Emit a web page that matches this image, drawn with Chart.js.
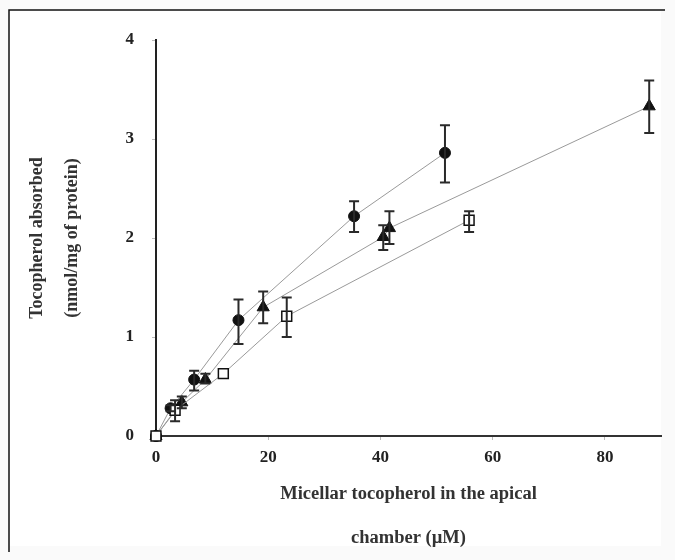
<!DOCTYPE html>
<html lang="en">
<head>
    <meta charset="UTF-8">
    <title>Tocopherol absorption</title>
    <style>
        body {
            margin: 0;
            background: #fafafa;
        }
        canvas {
            display: block;
        }
    </style>
    <script src="https://cdn.jsdelivr.net/npm/chart.js"></script>
</head>
<body>
    <canvas id="tocoChart" width="675" height="560"></canvas>

    <script>
        // values (x: µM, y: nmol/mg protein)
        const xTicks = [0, 20, 40, 60, 80];
        const yTicks = [0, 1, 2, 3, 4];

        const circleX = [0, 2.6, 6.8, 14.7, 35.3, 51.5];
        const circleY = [0, 0.28, 0.57, 1.17, 2.22, 2.86];
        const circleLo = [0, 0.25, 0.46, 0.93, 2.06, 2.56];
        const circleHi = [0, 0.31, 0.66, 1.38, 2.37, 3.14];

        const triangleX = [0, 4.6, 8.8, 19.1, 40.5, 41.6, 87.9];
        const triangleY = [0, 0.34, 0.57, 1.30, 2.01, 2.10, 3.33];
        const triangleLo = [0, 0.28, 0.53, 1.14, 1.88, 1.94, 3.06];
        const triangleHi = [0, 0.40, 0.63, 1.46, 2.13, 2.27, 3.59];

        const squareX = [0, 3.4, 12.0, 23.3, 55.8];
        const squareY = [0, 0.26, 0.63, 1.21, 2.18];
        const squareLo = [0, 0.15, 0.63, 1.00, 2.06];
        const squareHi = [0, 0.36, 0.63, 1.40, 2.27];

        function points(xs, ys, lo, hi) {
            return xs.map((x, i) => ({ x: x, y: ys[i], lo: lo[i], hi: hi[i] }));
        }

        const serif = 'Liberation Serif, Times New Roman, serif';

        // page frame behind the chart
        const framePlugin = {
            id: 'frame',
            beforeDraw(chart) {
                const ctx = chart.ctx;
                ctx.save();
                ctx.fillStyle = '#ffffff';
                ctx.fillRect(9, 10, 652, 536);
                ctx.strokeStyle = '#111';
                ctx.lineWidth = 1.5;
                ctx.beginPath();
                ctx.moveTo(665, 10);
                ctx.lineTo(9, 10);
                ctx.lineTo(9, 552);
                ctx.stroke();
                ctx.restore();
            }
        };

        // vertical error bars
        const errorBars = {
            id: 'errorBars',
            afterDatasetsDraw(chart) {
                const ctx = chart.ctx;
                const xs = chart.scales.x;
                const ys = chart.scales.y;
                ctx.save();
                ctx.strokeStyle = '#2a2a2a';
                ctx.lineWidth = 2;
                chart.data.datasets.forEach(ds => {
                    ds.data.forEach(p => {
                        if (p.hi - p.lo < 0.02) return;
                        const px = xs.getPixelForValue(p.x);
                        const top = ys.getPixelForValue(p.hi);
                        const bot = ys.getPixelForValue(p.lo);
                        ctx.beginPath();
                        ctx.moveTo(px, top);
                        ctx.lineTo(px, bot);
                        ctx.moveTo(px - 5, top);
                        ctx.lineTo(px + 5, top);
                        ctx.moveTo(px - 5, bot);
                        ctx.lineTo(px + 5, bot);
                        ctx.stroke();
                    });
                });
                ctx.restore();
            }
        };

        const lineStyle = {
            showLine: true,
            borderColor: '#9a9a9a',
            borderWidth: 1,
            clip: false
        };

        new Chart(document.getElementById('tocoChart'), {
            type: 'scatter',
            data: {
                datasets: [
                    Object.assign({
                        label: 'square',
                        data: points(squareX, squareY, squareLo, squareHi),
                        pointStyle: 'rect',
                        pointRadius: 7,
                        pointBackgroundColor: '#ffffff',
                        pointBorderColor: '#111',
                        pointBorderWidth: 1.5
                    }, lineStyle),
                    Object.assign({
                        label: 'circle',
                        data: points(circleX, circleY, circleLo, circleHi),
                        pointStyle: 'circle',
                        pointRadius: 5.5,
                        pointBackgroundColor: '#111',
                        pointBorderColor: '#111',
                        pointBorderWidth: 1
                    }, lineStyle),
                    Object.assign({
                        label: 'triangle',
                        data: points(triangleX, triangleY, triangleLo, triangleHi),
                        pointStyle: 'triangle',
                        pointRadius: 7,
                        pointBackgroundColor: '#111',
                        pointBorderColor: '#111',
                        pointBorderWidth: 1
                    }, lineStyle)
                ]
            },
            options: {
                responsive: false,
                animation: false,
                devicePixelRatio: 1,
                layout: {
                    padding: { top: 40, right: 14, bottom: 0, left: 0 }
                },
                plugins: {
                    legend: { display: false },
                    tooltip: { enabled: false }
                },
                scales: {
                    x: {
                        type: 'linear',
                        min: 0,
                        max: 90,
                        afterBuildTicks: scale => {
                            scale.ticks = xTicks.map(v => ({ value: v }));
                        },
                        afterFit: scale => { scale.height = 124; },
                        border: { color: '#333', width: 2 },
                        grid: {
                            drawOnChartArea: false,
                            tickLength: 4,
                            color: '#bbb'
                        },
                        ticks: {
                            padding: 7,
                            color: '#222',
                            font: { family: serif, size: 17, weight: 'bold' }
                        },
                        title: {
                            display: true,
                            text: ['Micellar tocopherol in the apical', 'chamber (\u00b5M)'],
                            color: '#333',
                            padding: { top: 0, bottom: 0 },
                            font: { family: serif, size: 18.5, weight: 'bold', lineHeight: 2.38 }
                        }
                    },
                    y: {
                        min: 0,
                        max: 4,
                        afterBuildTicks: scale => {
                            scale.ticks = yTicks.map(v => ({ value: v }));
                        },
                        afterFit: scale => { scale.width = 156; },
                        border: { color: '#222', width: 2 },
                        grid: {
                            drawOnChartArea: false,
                            tickLength: 4,
                            color: '#bbb'
                        },
                        ticks: {
                            padding: 18,
                            color: '#222',
                            font: { family: serif, size: 17, weight: 'bold' }
                        },
                        title: {
                            display: true,
                            text: ['Tocopherol absorbed', '(nmol/mg of protein)'],
                            color: '#333',
                            padding: { top: 19.5, bottom: 0 },
                            font: { family: serif, size: 18, weight: 'bold', lineHeight: 1.944 }
                        }
                    }
                }
            },
            plugins: [framePlugin, errorBars]
        });
    </script>
</body>
</html>
